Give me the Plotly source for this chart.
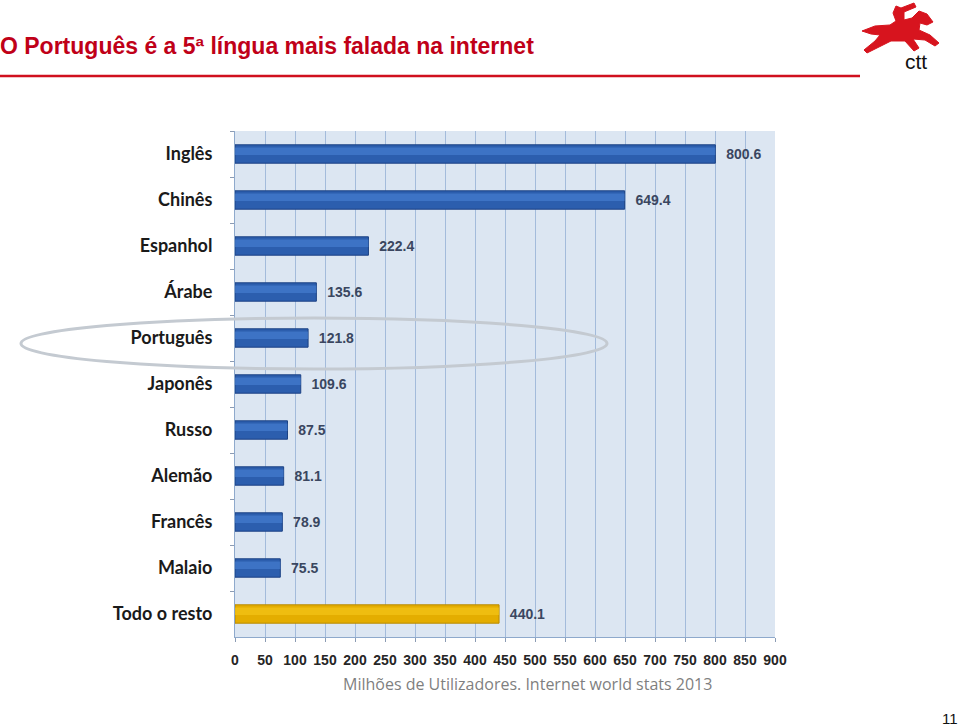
import plotly.graph_objects as go

linguas = ['Inglês', 'Chinês', 'Espanhol', 'Árabe', 'Português', 'Japonês',
           'Russo', 'Alemão', 'Francês', 'Malaio', 'Todo o resto']
utilizadores = [800.6, 649.4, 222.4, 135.6, 121.8, 109.6, 87.5, 81.1, 78.9, 75.5, 440.1]
x_ticks = list(range(0, 901, 50))

cores = ['#2c5eae'] * 10 + ['#e4ad00']
contornos = ['#1c4284'] * 10 + ['#b98a00']
brilho = ['#4a82d4'] * 10 + ['#f6c81a']

# plot area in pixels: x 235..775, y 131..637
L, R, T, B = 235, 775, 131, 637
W, H = R - L, B - T

def px_x(p):
    return (p - L) / W

def px_y(p):
    return (B - p) / H

fig = go.Figure()
fig.add_trace(go.Bar(
    y=linguas, x=utilizadores, orientation='h', width=0.4,
    marker=dict(color=cores, line=dict(color=contornos, width=1)),
    text=['\u00a0\u00a0' + f'{v:.1f}' for v in utilizadores],
    textposition='outside', cliponaxis=False,
    textfont=dict(family='Liberation Sans, Arial', size=14, color='#3a4660', weight='bold'),
    hoverinfo='skip',
))

# lighter band to fake the gradient on the bars
fig.add_trace(go.Bar(
    y=linguas, x=utilizadores, orientation='h', width=0.16, offset=-0.14,
    marker=dict(color=brilho, opacity=0.6, line=dict(width=0)),
    hoverinfo='skip',
))

fig.update_layout(
    width=960, height=726,
    paper_bgcolor='white', plot_bgcolor='#dce6f2',
    margin=dict(l=L, r=960 - R, t=T, b=726 - B),
    showlegend=False, barmode='overlay',
    title=dict(
        text='O Português é a 5ª língua mais falada na internet',
        x=0.0, xref='container', xanchor='left',
        y=1 - 46 / 726, yref='container', yanchor='middle',
        font=dict(family='Liberation Sans, Arial', size=23, color='#c00018', weight='bold'),
    ),
    xaxis=dict(
        range=[0, 900], tickvals=x_ticks, ticks='outside', ticklen=4, tickcolor='#8c9cb4',
        showgrid=True, gridcolor='#a3bbdb', gridwidth=1, zeroline=False,
        showline=True, linecolor='#8ea9cc', linewidth=1, ticklabelstandoff=6,
        tickfont=dict(family='Liberation Sans, Arial', size=14, color='#262626', weight='bold'),
        fixedrange=True,
    ),
    yaxis=dict(
        autorange='reversed', ticks='outside', tickson='boundaries', ticklen=4,
        tickcolor='#8c9cb4', showline=True, linecolor='#8ea9cc', linewidth=1,
        showgrid=False, ticklabelstandoff=18,
        tickfont=dict(family='Lato, Open Sans', size=18, color='#1a1a1a', weight='bold'),
        fixedrange=True,
    ),
)

# red rule under the title
fig.add_shape(type='line', xref='paper', yref='paper',
              x0=px_x(0), x1=px_x(860), y0=px_y(76), y1=px_y(76),
              line=dict(color='#d0101e', width=2.5))

# ellipse around Português
fig.add_shape(type='circle', xref='paper', yref='paper',
              x0=px_x(21), x1=px_x(607), y0=px_y(369), y1=px_y(318),
              line=dict(color='#c4cad1', width=3), layer='above')

def texto(t, x, y, size, color, family='Liberation Sans, Arial'):
    fig.add_annotation(text=t, xref='paper', yref='paper', x=px_x(x), y=px_y(y),
                       xanchor='center', yanchor='middle', showarrow=False,
                       font=dict(family=family, size=size, color=color))

texto('Milhões de Utilizadores. Internet world stats 2013', 527, 684, 16, '#7f7f7f',
      'Open Sans, Liberation Sans')

# logo: rough silhouette of the horse and rider, then the "ctt" word
cavalo = [(862, 31), (875, 26), (890, 25), (896, 21), (893, 13), (896, 6), (901, 8),
          (914, 3), (916, 7), (904, 12), (904, 20), (912, 18), (919, 11), (927, 14),
          (933, 22), (927, 25), (920, 23), (919, 30), (930, 35), (939, 43), (935, 46),
          (925, 40), (913, 39), (919, 48), (914, 51), (905, 41), (891, 41), (879, 47),
          (867, 53), (864, 50), (875, 41), (880, 35), (871, 34)]
caminho = 'M ' + ' L '.join(f'{px_x(a):.5f},{px_y(b):.5f}' for a, b in cavalo) + ' Z'
fig.add_shape(type='path', xref='paper', yref='paper', path=caminho,
              fillcolor='#d7141e', line=dict(color='#d7141e', width=1))
texto('ctt', 916, 62, 21, '#111111', 'Liberation Sans Narrow, Liberation Sans')

# page number
texto('11', 950, 718, 15, '#111111')

fig.write_html('out.html', config={'displayModeBar': False},
               post_script="document.body.style.margin='0';")
